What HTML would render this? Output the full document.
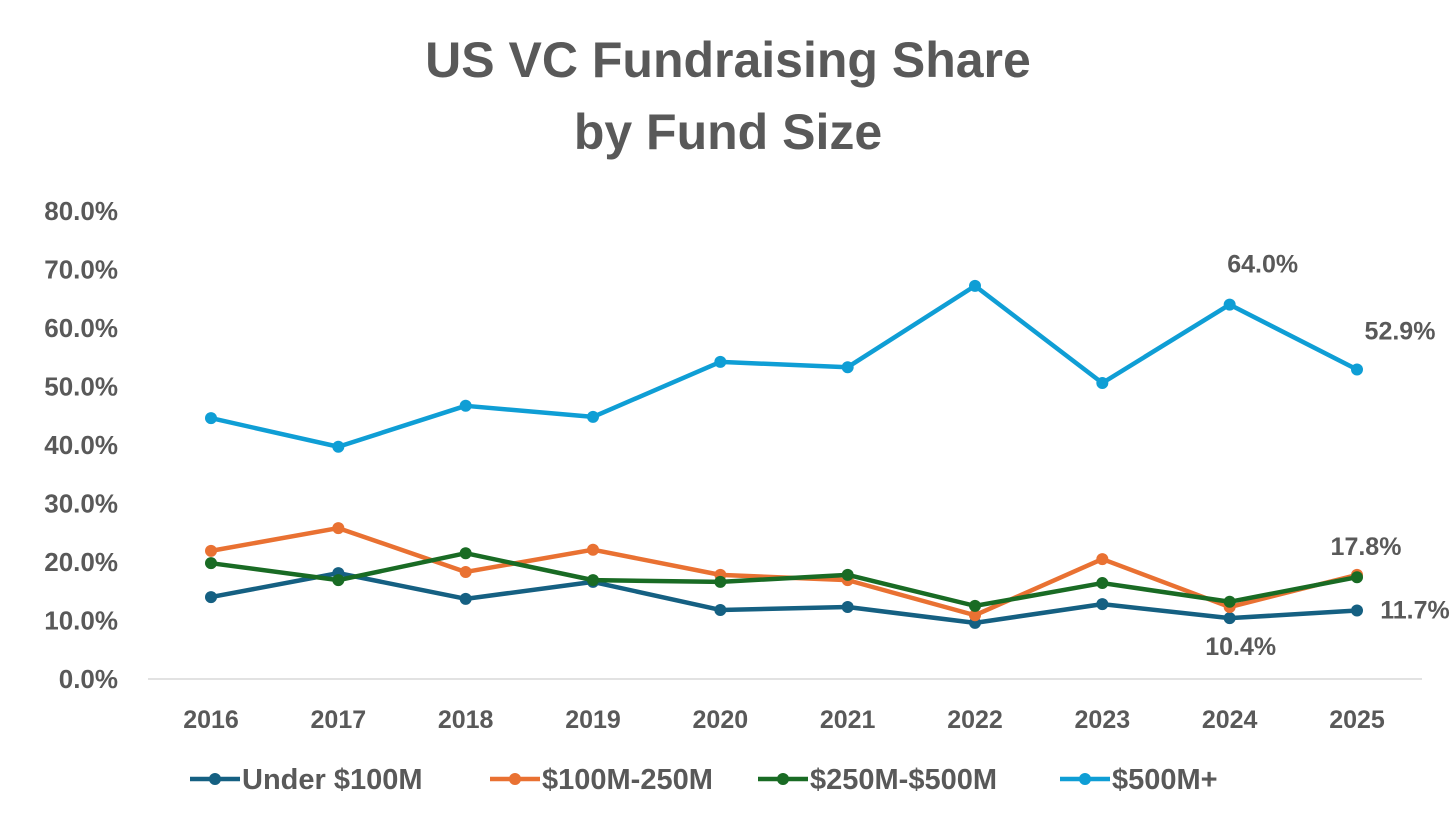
<!DOCTYPE html>
<html><head><meta charset="utf-8"><style>
body{margin:0;background:#fff;}
svg text{font-family:"Liberation Sans Narrow","Liberation Sans",sans-serif;font-weight:bold;fill:#595959;}
</style></head><body>
<svg id="chart" width="1456" height="825" xmlns="http://www.w3.org/2000/svg">
<text x="728" y="77" font-size="50" text-anchor="middle">US VC Fundraising Share</text>
<text x="728" y="149" font-size="50" text-anchor="middle">by Fund Size</text>
<g id="axes"></g><g id="series"></g><g id="labels"></g><g id="legend"></g>
</svg>
<script>
const years=["2016","2017","2018","2019","2020","2021","2022","2023","2024","2025"];
const yTicks=[0,10,20,30,40,50,60,70,80];
const under100=[14.0,18.1,13.7,16.6,11.8,12.3,9.6,12.8,10.4,11.7];
const s100to250=[21.9,25.8,18.3,22.1,17.8,16.9,10.9,20.5,12.3,17.8];
const s250to500=[19.8,16.9,21.5,16.9,16.6,17.8,12.5,16.4,13.2,17.4];
const s500plus=[44.6,39.7,46.7,44.8,54.2,53.3,67.2,50.6,64.0,52.9];
const seriesNames=["Under $100M","$100M-250M","$250M-$500M","$500M+"];
const NS="http://www.w3.org/2000/svg";
const xS=i=>211+i*(1357-211)/9;
const yS=v=>679-v*(679-211)/80;
function mk(t,a,p){const e=document.createElementNS(NS,t);for(const k in a)e.setAttribute(k,a[k]);p.appendChild(e);return e;}
const axes=document.getElementById('axes');
const base=mk('line',{x1:148,x2:1422,y1:yS(0),y2:yS(0),stroke:'#d9d9d9','stroke-width':1.5},axes);


yTicks.forEach(v=>{const t=mk('text',{x:118,y:yS(v)+9,'font-size':26,'text-anchor':'end'},axes);t.textContent=v.toFixed(1)+'%';

});
years.forEach((y,i)=>{const t=mk('text',{x:xS(i),y:728,'font-size':25,'text-anchor':'middle'},axes);t.textContent=y;

});
const data=[under100,s100to250,s250to500,s500plus];
const colors=["#156082","#e97132","#196b24","#0f9ed5"];
const sg=document.getElementById('series');
data.forEach((d,si)=>{
 const g=mk('g',{},sg);
 
 
 const pl=mk('polyline',{points:d.map((v,i)=>xS(i)+','+yS(v)).join(' '),fill:'none',stroke:colors[si],'stroke-width':4.5,'stroke-linejoin':'round'},g);
 
 
 d.forEach((v,i)=>{const c=mk('circle',{cx:xS(i),cy:yS(v),r:6,fill:colors[si]},g);
 
 });
});
const lg=document.getElementById('labels');
[[3,8,33,-32],[3,9,43,-30],[1,9,9,-20],[0,9,58,8],[0,8,11,37]].forEach(([s,i,dx,dy])=>{
 const t=mk('text',{x:xS(i)+dx,y:yS(data[s][i])+dy,'font-size':25,'text-anchor':'middle'},lg);
 t.textContent=data[s][i].toFixed(1)+'%';
 
 
});
const leg=document.getElementById('legend');
const lx=[190,490,758,1060];
seriesNames.forEach((n,i)=>{
 const g=mk('g',{},leg);
 
 
 mk('line',{x1:lx[i],x2:lx[i]+50,y1:779,y2:779,stroke:colors[i],'stroke-width':4.5},g);
 mk('circle',{cx:lx[i]+25,cy:779,r:6,fill:colors[i]},g);
 const t=mk('text',{x:lx[i]+52,y:789,'font-size':29},g);t.textContent=n;
});
</script>
</body></html>
